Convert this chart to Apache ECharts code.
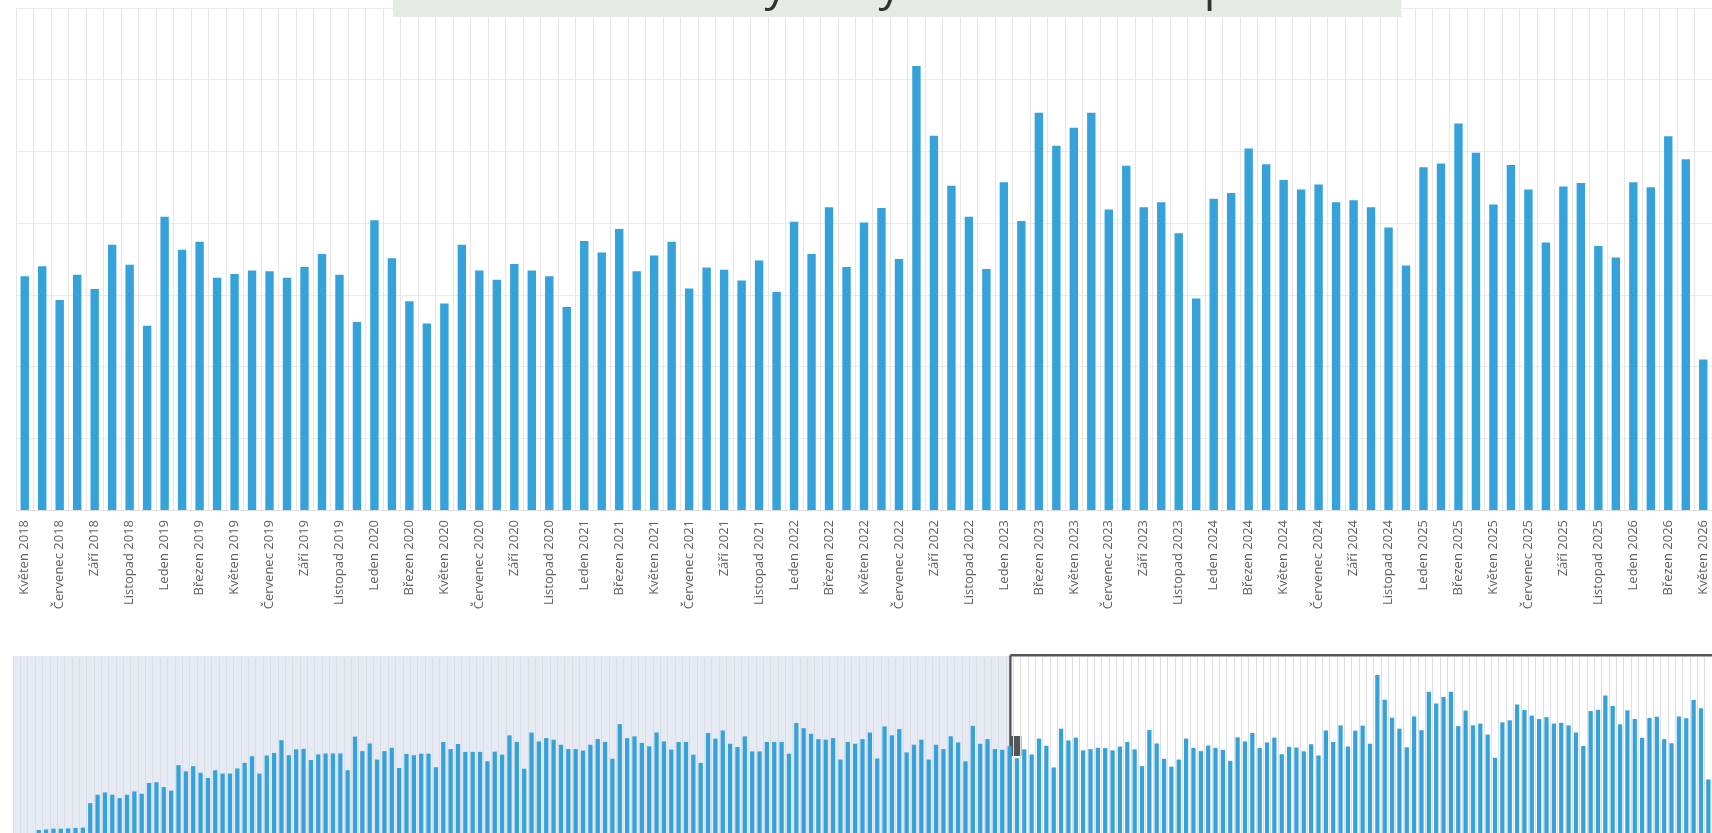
<!DOCTYPE html>
<html>
<head>
<meta charset="utf-8">
<script src="https://cdn.jsdelivr.net/npm/echarts@6/dist/echarts.min.js"></script>
<style>
html,body{margin:0;padding:0;overflow:hidden;background:#ffffff;}
#chart{width:1712px;height:833px;}
</style>
</head>
<body>
<div id="chart"></div>
<script>
// Czech month names and the first month of the series (Březen 2007)
const MONTHS = ['Leden','Únor','Březen','Duben','Květen','Červen','Červenec','Srpen','Září','Říjen','Listopad','Prosinec'];
const FIRST_MONTH_INDEX = 2;
const FIRST_YEAR = 2007;

// Values before the zoom window (Březen 2007 – Duben 2018), read from the overview strip
const historyValues = [
  0, 0, 0, 12, 14, 17, 17, 18, 20, 21,
  117, 150, 159, 150, 137, 150, 163, 154, 196, 199, 180, 166,
  266, 242, 262, 236, 216, 246, 233, 233, 253, 275,
  301, 233, 304, 314, 364, 305, 328, 330, 286, 308,
  312, 312, 312, 246, 378, 321, 351, 288, 321, 334,
  255, 310, 305, 311, 311, 258, 357, 329, 349, 318,
  318, 318, 281, 319, 307, 383, 357, 252, 394, 359,
  372, 366, 346, 329, 329, 323, 346, 368, 357, 291,
  427, 372, 379, 353, 340, 394, 359, 327, 357, 357,
  307, 275, 392, 370, 402, 350, 337, 379, 320, 320,
  357, 357, 357, 311, 431, 411, 389, 368, 366, 372,
  288, 357, 350, 368, 394, 292, 418, 383, 407, 316,
  346, 366, 288, 346, 329, 379, 355, 281, 420, 350, 368, 329
];

// Values in the zoom window (Květen 2018 – Květen 2026)
const recentValues = [
  326, 340, 293, 328, 308, 370, 342, 257, 409, 363, 374, 324, 329, 334, 333, 324, 339, 357, 328, 262,
  404, 351, 291, 260, 288, 370, 334, 321, 343, 334, 326, 283, 375, 359, 392, 333, 355, 374, 309, 338,
  335, 320, 348, 304, 402, 357, 422, 339, 401, 421, 350, 619, 522, 452, 409, 336, 457, 403, 554, 508,
  533, 554, 419, 480, 422, 429, 386, 295, 434, 442, 504, 482, 460, 447, 454, 429, 432, 422, 394, 341,
  478, 483, 539, 498, 426, 481, 447, 373, 451, 456, 368, 352, 457, 450, 521, 489, 210
];

const titleText = 'Měsíční statistiky nových záznamů – přehled';

const allValues = historyValues.concat(recentValues);
const categories = allValues.map(function (_, i) {
  const m = FIRST_MONTH_INDEX + i;
  return MONTHS[m % 12] + ' ' + (FIRST_YEAR + Math.floor(m / 12));
});
const windowStart = historyValues.length;
const windowEnd = allValues.length - 1;

const BAR = '#36a2da';

const chart = echarts.init(document.getElementById('chart'), null, { renderer: 'canvas' });
chart.setOption({
  animation: false,
  backgroundColor: '#ffffff',
  title: {
    text: titleText,
    left: 393,
    top: -47,
    padding: [8, 31, 4, 31],
    backgroundColor: '#e5eae5',
    textStyle: {
      fontFamily: 'Open Sans',
      fontSize: 46,
      fontWeight: 'normal',
      color: '#333333',
      lineHeight: 52
    }
  },
  grid: [
    { left: 16, right: -11, top: 8, height: 502, containLabel: false },
    { left: 13, right: -11, top: 657, height: 177, containLabel: false }
  ],
  xAxis: [
    {
      type: 'category',
      gridIndex: 0,
      data: categories,
      boundaryGap: true,
      axisTick: { show: false },
      axisLine: { show: true, lineStyle: { color: '#dedede' } },
      axisLabel: {
        interval: 1,
        rotate: 90,
        margin: 10,
        fontFamily: 'Open Sans',
        fontSize: 13,
        color: '#606060'
      },
      splitLine: { show: true, interval: 0, lineStyle: { color: '#e6e6e6', width: 1 } }
    },
    {
      type: 'category',
      gridIndex: 1,
      data: categories,
      boundaryGap: true,
      z: 3,
      axisTick: { show: false },
      axisLine: { show: false },
      axisLabel: { show: false },
      splitLine: { show: true, interval: 0, lineStyle: { color: '#dadde3', width: 1 } }
    }
  ],
  yAxis: [
    {
      type: 'value',
      gridIndex: 0,
      min: 0,
      max: 700,
      interval: 100,
      axisLabel: { show: false },
      axisLine: { show: false },
      axisTick: { show: false },
      splitLine: { show: true, lineStyle: { color: '#ebebeb', width: 1 } }
    },
    {
      type: 'value',
      gridIndex: 1,
      min: 0,
      max: 690,
      axisLabel: { show: false },
      axisLine: { show: false },
      axisTick: { show: false },
      splitLine: { show: false }
    }
  ],
  dataZoom: [
    {
      type: 'slider',
      xAxisIndex: 0,
      filterMode: 'filter',
      startValue: windowStart,
      endValue: windowEnd,
      left: 13,
      right: -11,
      top: 654,
      height: 180,
      z: 1,
      showDataShadow: false,
      showDetail: false,
      brushSelect: true,
      borderColor: 'rgba(0,0,0,0)',
      borderRadius: 0,
      backgroundColor: '#e6ebf3',
      fillerColor: '#ffffff',
      handleIcon: 'path://M-11,0 M-1.2,0 L1.2,0 L1.2,80 L11,80 L11,100 L1.2,100 L1.2,180 L-1.2,180 Z',
      handleSize: '100%',
      handleStyle: { color: '#555555', borderWidth: 0, shadowBlur: 0, opacity: 1 },
      moveHandleSize: 2.5,
      moveHandleIcon: 'none',
      moveHandleStyle: { color: '#555555', opacity: 1 },
      emphasis: {
        handleStyle: { color: '#555555', borderWidth: 0, shadowBlur: 0 },
        moveHandleStyle: { color: '#555555' }
      }
    }
  ],
  series: [
    {
      type: 'bar',
      name: 'Hlavní',
      xAxisIndex: 0,
      yAxisIndex: 0,
      data: allValues,
      barWidth: '48%',
      itemStyle: { color: BAR },
      emphasis: { disabled: true }
    },
    {
      type: 'bar',
      name: 'Přehled',
      xAxisIndex: 1,
      yAxisIndex: 1,
      data: allValues,
      barWidth: '58%',
      z: 5,
      itemStyle: { color: BAR },
      emphasis: { disabled: true }
    }
  ]
});
</script>
</body>
</html>
